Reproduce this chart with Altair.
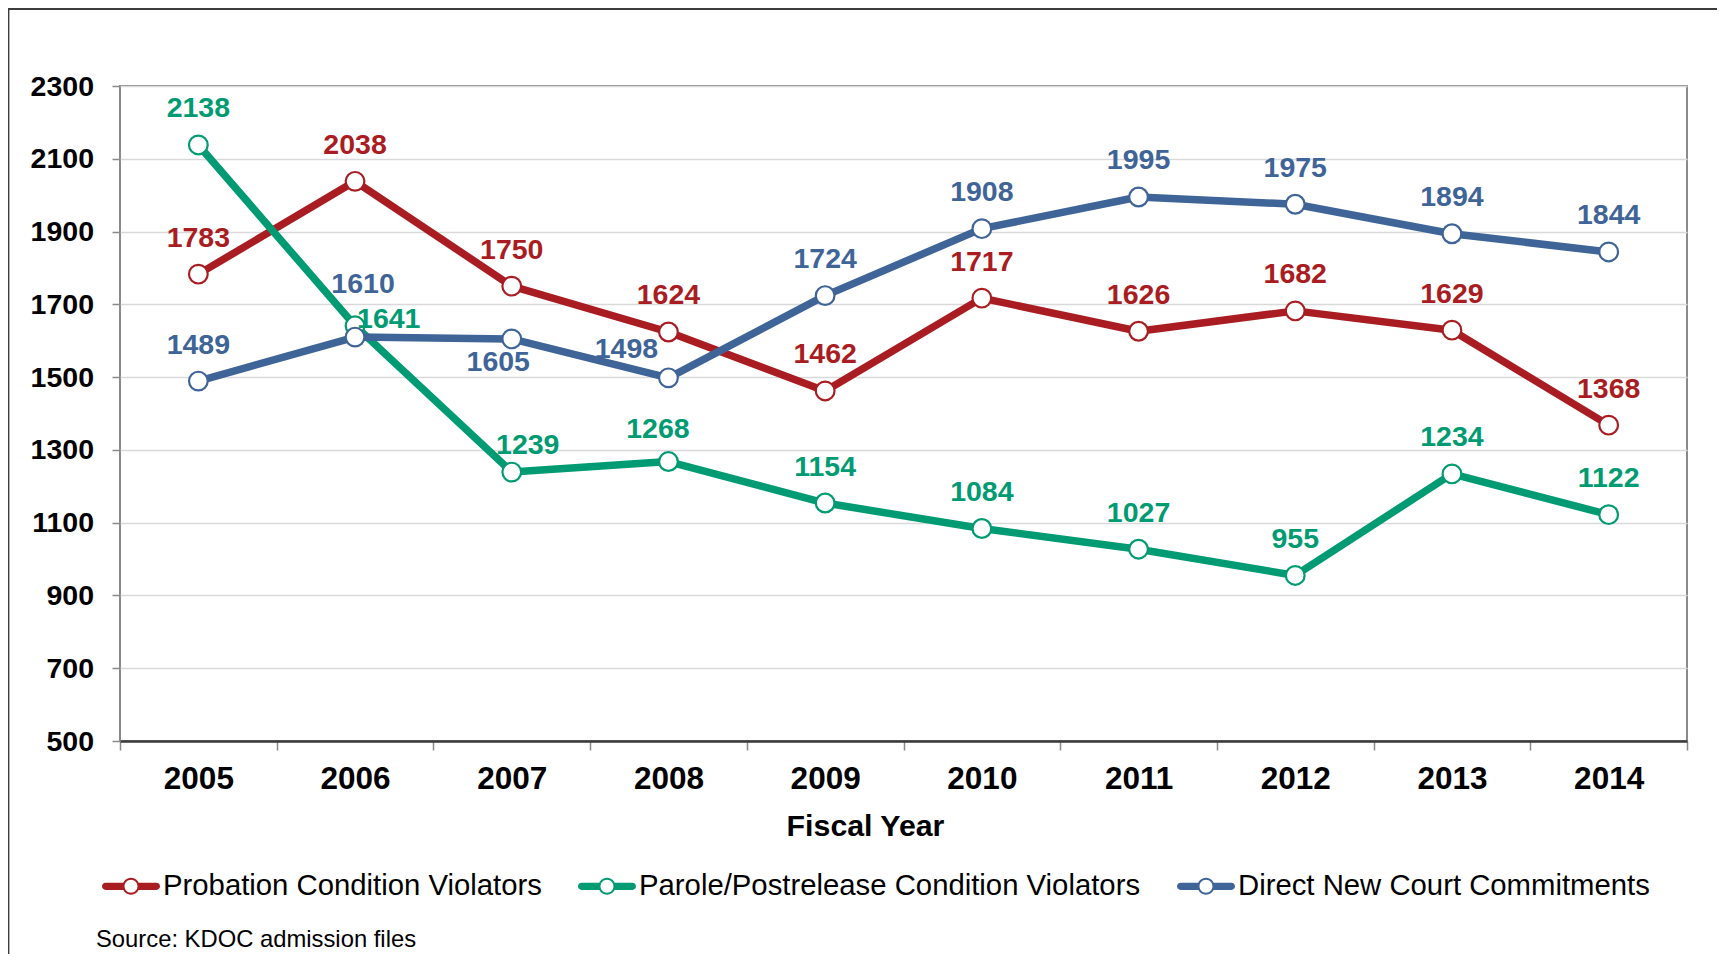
import altair as alt
import pandas as pd

# ---------------- data ----------------
years = [2005, 2006, 2007, 2008, 2009, 2010, 2011, 2012, 2013, 2014]
series_names = [
    "Probation Condition Violators",
    "Parole/Postrelease Condition Violators",
    "Direct New Court Commitments",
]
probation = [1783, 2038, 1750, 1624, 1462, 1717, 1626, 1682, 1629, 1368]
parole = [2138, 1641, 1239, 1268, 1154, 1084, 1027, 955, 1234, 1122]
direct = [1489, 1610, 1605, 1498, 1724, 1908, 1995, 1975, 1894, 1844]
y_ticks = [500, 700, 900, 1100, 1300, 1500, 1700, 1900, 2100, 2300]
x_title = "Fiscal Year"
source_text = "Source: KDOC admission files"

rows = []
for name, vals in zip(series_names, [probation, parole, direct]):
    for yr, v in zip(years, vals):
        rows.append({"series": name, "grp": name, "year": yr, "value": v, "key": f"{name}|{yr}"})
df = pd.DataFrame(rows)

# ---------------- style ----------------
FONT = "Liberation Sans"
colors = ["#A91D22", "#009B72", "#3F6497"]
color_of = dict(zip(series_names, colors))
PLOT_W, PLOT_H = 1567, 655
STEP = PLOT_W / len(years)

# label nudges (dx, dy, align) for labels not placed directly above their point
NUDGE = {
    f"{series_names[2]}|2006": (8, -44, "center"),
    f"{series_names[1]}|2006": (2, 2, "left"),
    f"{series_names[2]}|2007": (-13.5, 32, "center"),
    f"{series_names[2]}|2008": (-42, -20, "center"),
    f"{series_names[1]}|2007": (16, -18, "center"),
    f"{series_names[1]}|2008": (-10.5, -24, "center"),
}

# legend symbol: thick bar with a hollow ring in the middle (unit square -1..1)
SYM = (
    "M-0.25,-0.124 L-0.876,-0.124 A0.124,0.124 0 0 0 -0.876,0.124 L-0.25,0.124 Z "
    "M0.25,0.124 L0.876,0.124 A0.124,0.124 0 0 0 0.876,-0.124 L0.25,-0.124 Z "
    "M0.293,0 A0.293,0.293 0 1 0 -0.293,0 A0.293,0.293 0 1 0 0.293,0 Z "
    "M0.224,0 A0.224,0.224 0 1 1 -0.224,0 A0.224,0.224 0 1 1 0.224,0 Z"
)
SYM_SIZE = 58 * 58

legend = alt.Legend(
    title=None,
    orient="none",
    legendX=-18,
    legendY=771,
    direction="horizontal",
    symbolType=SYM,
    symbolSize=SYM_SIZE,
    symbolStrokeWidth=0,
    symbolOpacity=1,
    labelFont=FONT,
    labelFontSize=29.3,
    labelColor="#000000",
    labelLimit=2000,
    labelOffset=3,
    columnPadding=36,
    padding=0,
)

# legend colour scale (explicit domain) and mark colour scales (data domain)
color = alt.Color(
    "series:N", scale=alt.Scale(domain=series_names, range=colors), legend=legend
)
alpha_range = [color_of[n] for n in sorted(series_names)]
stroke = alt.Stroke("grp:N", scale=alt.Scale(range=alpha_range), legend=None)
fill = alt.Fill("grp:N", scale=alt.Scale(range=alpha_range), legend=None)

x_vals = [y - 0.5 for y in years] + [years[-1] + 0.5]
x_enc = alt.X(
    "year:Q",
    scale=alt.Scale(domain=[years[0] - 0.5, years[-1] + 0.5], nice=False, zero=False),
    axis=alt.Axis(
        values=x_vals,
        labelExpr=f"datum.value < {years[-1]} ? format(datum.value + 0.5, 'd') : ''",
        labelOffset=STEP / 2,
        labelFlush=False,
        labelBound=False,
        labelOverlap=False,
        labelFont=FONT,
        labelFontSize=31.5,
        labelFontWeight="bold",
        labelColor="#000000",
        labelBaseline="alphabetic",
        labelPadding=38,
        tickSize=9,
        tickColor="#8a8a8a",
        tickWidth=1.5,
        domainColor="#3a3a3a",
        domainWidth=2.5,
        grid=False,
        title=x_title,
        titleFont=FONT,
        titleFontSize=30.3,
        titleFontWeight="bold",
        titleColor="#000000",
        titleX=745,
        titleY=94,
        titleBaseline="alphabetic",
        titleAlign="center",
    ),
)
y_enc = alt.Y(
    "value:Q",
    scale=alt.Scale(domain=[y_ticks[0], y_ticks[-1]], nice=False, zero=False),
    axis=alt.Axis(
        values=y_ticks,
        format="d",
        labelFont=FONT,
        labelFontSize=28.5,
        labelFontWeight="bold",
        labelColor="#000000",
        labelPadding=18.5,
        tickSize=8,
        tickColor="#8a8a8a",
        tickWidth=1.5,
        domain=False,
        grid=True,
        gridColor="#d9d9d9",
        gridWidth=1.5,
        title=None,
    ),
)

base = alt.Chart(df).encode(x=x_enc, y=y_enc)

lines = base.mark_line(strokeWidth=7.5, strokeJoin="round").encode(stroke=stroke)
points = base.mark_point(
    shape="circle", filled=False, fill="white", size=350, strokeWidth=2.2, opacity=1
).encode(stroke=stroke)

# invisible layer that only carries the legend
legend_layer = (
    base.transform_filter("false")
    .mark_point(filled=True, shape=SYM, size=SYM_SIZE, opacity=1)
    .encode(color=color)
)

text_style = dict(font=FONT, fontSize=28.5, fontWeight="bold", baseline="alphabetic")
labels_default = (
    base.transform_filter(~alt.FieldOneOfPredicate(field="key", oneOf=list(NUDGE)))
    .mark_text(dy=-27.5, align="center", **text_style)
    .encode(text="value:Q", fill=fill)
)
label_layers = [labels_default]
for k, (dx, dy, al) in NUDGE.items():
    label_layers.append(
        base.transform_filter(alt.datum.key == k)
        .mark_text(dx=dx, dy=dy, align=al, **text_style)
        .encode(text="value:Q", fill=fill)
    )

frame = (
    alt.Chart(alt.Data(values=[{"f": 1}]))
    .mark_rect(fill="transparent", stroke="#3c3c3c", strokeWidth=1.8)
    .encode(x=alt.value(-111.5), x2=alt.value(1700), y=alt.value(-77), y2=alt.value(1000))
)

source = (
    alt.Chart(alt.Data(values=[{"f": 1}]))
    .mark_text(font=FONT, fontSize=23.8, align="left", baseline="alphabetic", color="#000000")
    .encode(x=alt.value(-24), y=alt.value(860.5), text=alt.value(source_text))
)

chart = (
    alt.layer(frame, lines, points, *label_layers, legend_layer, source)
    .properties(
        width=PLOT_W,
        height=PLOT_H,
        autosize=alt.AutoSizeParams(type="none"),
        padding={"left": 112, "top": 78, "right": 30, "bottom": 213},
        background="white",
    )
    .configure_view(stroke="#8a8a8a", strokeWidth=2)
)

chart.save("out.html", embed_options={"renderer": "svg", "actions": False})
